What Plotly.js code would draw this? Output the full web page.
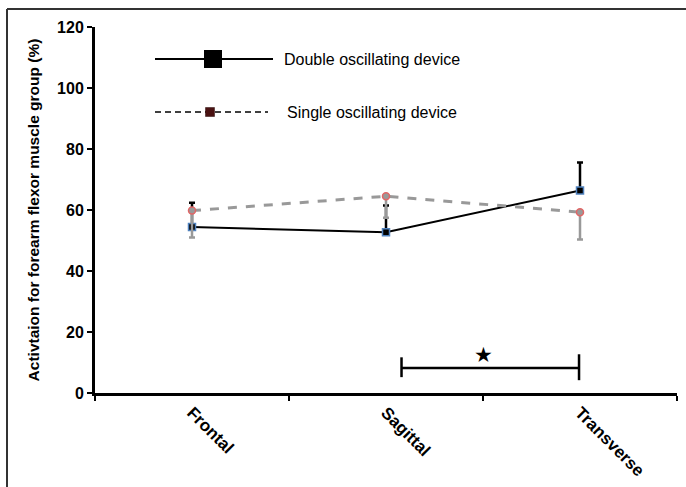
<!DOCTYPE html>
<html><head><meta charset="utf-8">
<script src="https://cdn.plot.ly/plotly-3.0.1.min.js"></script>
<style>body{margin:0;background:#fff}#c{width:686px;height:487px}</style>
</head><body><div id="c"></div>
<script>
const categories = ["Frontal", "Sagittal", "Transverse"];
const doubleVals = [54.4, 52.7, 66.4];
const doubleErrUp = [8.0, 8.8, 9.2];
const singleVals = [59.8, 64.5, 59.3];
const singleErrDown = [8.8, 7.0, 9.0];
const seriesNames = ["Double oscillating device", "Single oscillating device"];
const yTicks = [0, 20, 40, 60, 80, 100, 120];
const sigBracket = {from: 1.08, to: 1.995, y: 8.2, label: "★"};

const zeros = categories.map(() => 0);
const traces = [
  {x: categories, y: doubleVals, name: seriesNames[0], type: 'scatter', mode: 'lines+markers',
   line: {color: '#000', width: 2},
   marker: {symbol: 'square', size: 7, color: '#000', line: {color: '#4f81bd', width: 1.5}},
   error_y: {type: 'data', symmetric: false, array: doubleErrUp, arrayminus: zeros, color: '#000', thickness: 2.5, width: 3}},
  {x: categories, y: singleVals, name: seriesNames[1], type: 'scatter', mode: 'lines+markers',
   line: {color: '#999', width: 3, dash: 'dash'},
   marker: {symbol: 'circle', size: 7, color: '#999', line: {color: '#e06666', width: 1.5}},
   error_y: {type: 'data', symmetric: false, array: zeros, arrayminus: singleErrDown, color: '#999', thickness: 2.5, width: 3}}
];

const fx = v => (v - 95) / 582;
const fy = v => (393 - v) / 366;
const shapes = [
  {type: 'line', xref: 'paper', yref: 'paper', x0: fx(7), x1: fx(7), y0: fy(490), y1: fy(9), line: {color: '#333', width: 2}},
  {type: 'line', xref: 'paper', yref: 'paper', x0: fx(7), x1: fx(690), y0: fy(9), y1: fy(9), line: {color: '#333', width: 2}},
  {type: 'line', xref: 'x', yref: 'y', x0: sigBracket.from, x1: sigBracket.to, y0: sigBracket.y, y1: sigBracket.y, line: {color: '#000', width: 2.5}},
  {type: 'line', xref: 'x', yref: 'y', x0: sigBracket.from, x1: sigBracket.from, y0: sigBracket.y - 3, y1: sigBracket.y + 3.5, line: {color: '#000', width: 2.5}},
  {type: 'line', xref: 'x', yref: 'y', x0: sigBracket.to, x1: sigBracket.to, y0: sigBracket.y - 4, y1: sigBracket.y + 4.5, line: {color: '#000', width: 2.5}},
  {type: 'line', xref: 'paper', yref: 'paper', x0: fx(155), x1: fx(273), y0: fy(59), y1: fy(59), line: {color: '#000', width: 2}},
  {type: 'rect', xref: 'paper', yref: 'paper', xsizemode: 'pixel', ysizemode: 'pixel', xanchor: fx(213), yanchor: fy(59),
   x0: -9, x1: 9, y0: -9, y1: 9, fillcolor: '#000', line: {color: '#000', width: 0}},
  {type: 'line', xref: 'paper', yref: 'paper', x0: fx(155), x1: fx(268), y0: fy(112), y1: fy(112), line: {color: '#000', width: 1.5, dash: '6px,4px'}},
  {type: 'rect', xref: 'paper', yref: 'paper', xsizemode: 'pixel', ysizemode: 'pixel', xanchor: fx(210), yanchor: fy(112),
   x0: -4.5, x1: 4.5, y0: -4.5, y1: 4.5, fillcolor: '#4a1212', line: {color: '#2a0808', width: 0.5}}
];

const annotations = [
  {xref: 'paper', yref: 'paper', x: fx(282), y: fy(60), xanchor: 'left', yanchor: 'middle', showarrow: false,
   text: seriesNames[0], font: {family: 'Liberation Sans, Arial', size: 16, color: '#000'}},
  {xref: 'paper', yref: 'paper', x: fx(285), y: fy(112), xanchor: 'left', yanchor: 'middle', showarrow: false,
   text: seriesNames[1], font: {family: 'Liberation Sans, Arial', size: 16, color: '#000'}},
  {xref: 'x', yref: 'y', x: 1.5, y: sigBracket.y + 4.2, yanchor: 'middle', showarrow: false,
   text: sigBracket.label, font: {family: 'DejaVu Sans', size: 21, color: '#000'}}
];

const layout = {
  width: 686, height: 487,
  margin: {l: 95, r: 9, t: 27, b: 94},
  paper_bgcolor: '#fff', plot_bgcolor: '#fff',
  showlegend: false,
  font: {family: 'Liberation Sans, Arial', color: '#000'},
  xaxis: {type: 'category', range: [-0.5, 2.5], showgrid: false, zeroline: false,
          showline: true, linecolor: '#000', linewidth: 3,
          ticks: 'outside', tickson: 'boundaries', ticklen: 5, tickwidth: 2, tickcolor: '#000',
          tickangle: 45, tickfont: {size: 17, family: 'Liberation Sans, Arial', weight: 'bold'}},
  yaxis: {range: [0, 120], tickvals: yTicks, showgrid: false, zeroline: false,
          showline: true, linecolor: '#000', linewidth: 3,
          ticks: 'outside', ticklen: 5, tickwidth: 2, tickcolor: '#000',
          tickfont: {size: 16, family: 'Liberation Sans, Arial', weight: 'bold'},
          title: {text: 'Activtaion for forearm flexor muscle group (%)', standoff: 14,
                  font: {size: 15.5, family: 'Liberation Sans, Arial', weight: 'bold'}}},
  shapes: shapes, annotations: annotations
};

Plotly.newPlot('c', traces, layout, {displayModeBar: false});
</script></body></html>
